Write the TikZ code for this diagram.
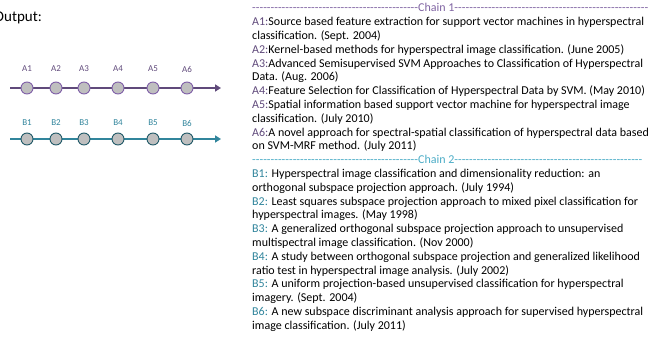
\documentclass[tikz,border=0pt]{standalone}
\usepackage{fontspec}
\setmainfont{Carlito}
\usetikzlibrary{arrows.meta}
\definecolor{purpleline}{HTML}{604A7B}
\definecolor{purplering}{HTML}{7F5FA8}
\definecolor{purpletext}{HTML}{8064A2}
\definecolor{tealline}{HTML}{31859C}
\definecolor{tealring}{HTML}{215968}
\definecolor{tealtext}{HTML}{4BACC6}
\definecolor{dotfill}{HTML}{BFBFBF}
\tikzset{
  dotA/.style={circle, draw=purplering, fill=dotfill, line width=0.9pt, minimum size=12pt, inner sep=0pt},
  dotB/.style={circle, draw=tealring, fill=dotfill, line width=0.9pt, minimum size=12pt, inner sep=0pt},
  lblA/.style={font=\fontsize{9}{10}\selectfont, text=purpleline, inner sep=0pt},
  lblB/.style={font=\fontsize{9}{10}\selectfont, text=tealline, inner sep=0pt},
  chainA/.style={draw=purpleline, line width=2pt, -{Triangle[length=6pt,width=7pt]}},
  chainB/.style={draw=tealline, line width=2pt, -{Triangle[length=6pt,width=7pt]}},
  entry/.style={anchor=base west, align=left, inner sep=0pt, font=\fontsize{12}{13.8}\selectfont},
}
\newcommand{\dashfill}[1]{\hbox to #1{\xleaders\hbox{-}\hfill}}
\begin{document}
\begin{tikzpicture}[x=1pt,y=-1pt]
\useasboundingbox (0,0) rectangle (659,352);
\node[anchor=base west, inner sep=0pt, font=\fontsize{15}{18}\selectfont] (out) at (-6,22) {Output:};
% chain A
\coordinate (as) at (10,88);
\coordinate (ae) at (221,88);
\draw[chainA] (as) -- (ae);
\foreach \i/\x in {1/27,2/56,3/84,4/118,5/153,6/187}{
  \node[dotA] (a\i) at (\x,88) {};
  \node[lblA] (la\i) at (\x,69) {A\i};
}
% chain B
\coordinate (bs) at (10,139);
\coordinate (be) at (221,139);
\draw[chainB] (bs) -- (be);
\foreach \i/\x in {1/27,2/56,3/84,4/118,5/153,6/187}{
  \node[dotB] (b\i) at (\x,139) {};
  \node[lblB] (lb\i) at (\x,123) {B\i};
}
% text column (line pitch 13.8; anchors on the last line's baseline)
\node[entry, text=purpletext] (h1) at (252,12) {\dashfill{166pt}Chain 1\dashfill{194pt}};
\node[entry] (t1) at (252,39.6) {\textcolor{purpleline}{A1:}Source based feature extraction for support vector machines in hyperspectral\\classification. (Sept. 2004)};
\node[entry] (t2) at (252,53.4) {\textcolor{purpleline}{A2:}Kernel-based methods for hyperspectral image classification. (June 2005)};
\node[entry] (t3) at (252,81.0) {\textcolor{purpleline}{A3:}Advanced Semisupervised SVM Approaches to Classification of Hyperspectral\\Data. (Aug. 2006)};
\node[entry] (t4) at (252,94.8) {\textcolor{purpleline}{A4:}Feature Selection for Classification of Hyperspectral Data by SVM. (May 2010)};
\node[entry] (t5) at (252,122.4) {\textcolor{purpleline}{A5:}Spatial information based support vector machine for hyperspectral image\\classification. (July 2010)};
\node[entry] (t6) at (252,150.0) {\textcolor{purpleline}{A6:}A novel approach for spectral-spatial classification of hyperspectral data based\\on SVM-MRF method. (July 2011)};
\node[entry, text=tealtext] (h2) at (252,163.8) {\dashfill{166pt}Chain 2\dashfill{188pt}};
\node[entry] (u1) at (252,191.4) {\textcolor{tealline}{B1:} Hyperspectral image classification and dimensionality reduction: an\\orthogonal subspace projection approach. (July 1994)};
\node[entry] (u2) at (252,219.0) {\textcolor{tealline}{B2:} Least squares subspace projection approach to mixed pixel classification for\\hyperspectral images. (May 1998)};
\node[entry] (u3) at (252,246.6) {\textcolor{tealline}{B3:} A generalized orthogonal subspace projection approach to unsupervised\\multispectral image classification. (Nov 2000)};
\node[entry] (u4) at (252,274.2) {\textcolor{tealline}{B4:} A study between orthogonal subspace projection and generalized likelihood\\ratio test in hyperspectral image analysis. (July 2002)};
\node[entry] (u5) at (252,301.8) {\textcolor{tealline}{B5:} A uniform projection-based unsupervised classification for hyperspectral\\imagery. (Sept. 2004)};
\node[entry] (u6) at (252,329.4) {\textcolor{tealline}{B6:} A new subspace discriminant analysis approach for supervised hyperspectral\\image classification. (July 2011)};
\end{tikzpicture}
\end{document}
